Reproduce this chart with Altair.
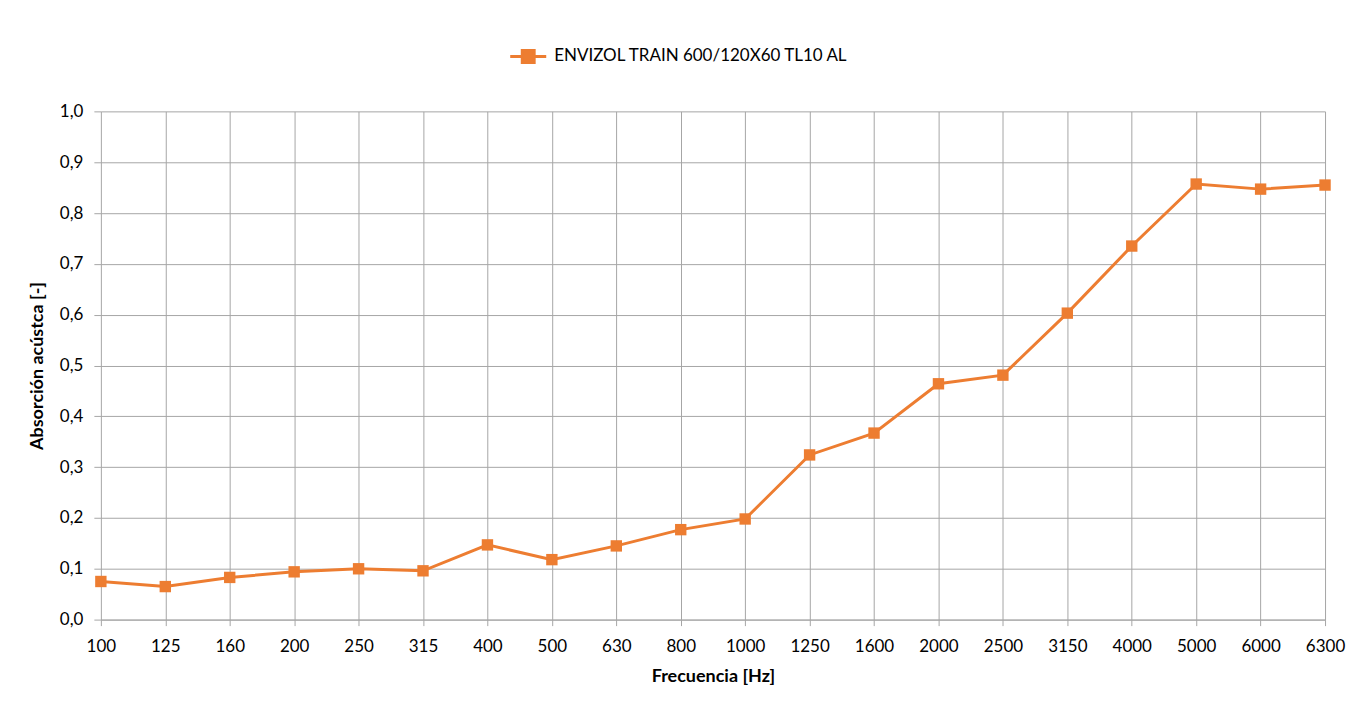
import altair as alt
import pandas as pd

frequencies = ["100", "125", "160", "200", "250", "315", "400", "500", "630", "800",
               "1000", "1250", "1600", "2000", "2500", "3150", "4000", "5000", "6000", "6300"]
absorption = [0.075, 0.065, 0.083, 0.094, 0.100, 0.096, 0.147, 0.118, 0.145, 0.177,
              0.198, 0.324, 0.367, 0.464, 0.481, 0.603, 0.735, 0.857, 0.847, 0.855]
series_name = "ENVIZOL TRAIN 600/120X60 TL10  AL"
y_ticks = [0.0, 0.1, 0.2, 0.3, 0.4, 0.5, 0.6, 0.7, 0.8, 0.9, 1.0]

df = pd.DataFrame({"freq": frequencies, "abs": absorption, "serie": series_name})

FONT = "Lato"
ORANGE = "#ED7D31"
GRID = "#A6A6A6"
FS = 17

x_enc = alt.X("freq:N", sort=frequencies,
              scale=alt.Scale(type="point", padding=0),
              axis=alt.Axis(title="Frecuencia [Hz]", labelAngle=0, labelFontSize=FS,
                            labelFont=FONT, labelColor="#000000", labelPadding=13,
                            titleFont=FONT, titleFontSize=18, titleFontWeight="bold",
                            titleColor="#000000", titlePadding=13,
                            grid=True, gridColor=GRID, gridWidth=1,
                            domainColor=GRID, tickColor=GRID, tickSize=6))
y_enc = alt.Y("abs:Q", scale=alt.Scale(domain=[0, 1.0], nice=False),
              axis=alt.Axis(title="Absorción acústca [-]", values=y_ticks,
                            labelExpr="replace(format(datum.value, '.1f'), '.', ',')",
                            labelFontSize=FS, labelFont=FONT, labelColor="#000000",
                            labelPadding=11,
                            titleFont=FONT, titleFontSize=18, titleFontWeight="bold",
                            titleColor="#000000", titlePadding=13,
                            grid=True, gridColor=GRID, gridWidth=1,
                            domain=False, tickColor=GRID, tickSize=7))
color_enc = alt.Color("serie:N", scale=alt.Scale(range=[ORANGE]),
                      legend=alt.Legend(title=None, orient="none", legendX=408, legendY=-75,
                                        labelFont=FONT, labelFontSize=FS, labelColor="#000000",
                                        labelLimit=0,
                                        symbolType="M-1,0L1,0M-0.33,-0.33L0.33,-0.33L0.33,0.33L-0.33,0.33Z",
                                        symbolSize=1300, symbolStrokeWidth=3,
                                        symbolFillColor=ORANGE, symbolStrokeColor=ORANGE,
                                        labelOffset=6))

line = alt.Chart(df).mark_line(strokeWidth=3, color=ORANGE).encode(
    x=x_enc, y=y_enc, color=color_enc)
points = alt.Chart(df).mark_point(shape="square", filled=True, size=130, opacity=1,
                                  color=ORANGE).encode(
    x=x_enc, y=y_enc, color=alt.Color("serie:N", scale=alt.Scale(range=[ORANGE]), legend=None))

chart = alt.layer(line, points).properties(
    width=1226, height=509,
    autosize=alt.AutoSizeParams(type="none"),
    padding={"left": 93, "top": 103, "right": 30, "bottom": 80},
    background="#FFFFFF",
).configure_view(stroke=None)

chart.save("out.html", embed_options={"renderer": "svg", "actions": False})
